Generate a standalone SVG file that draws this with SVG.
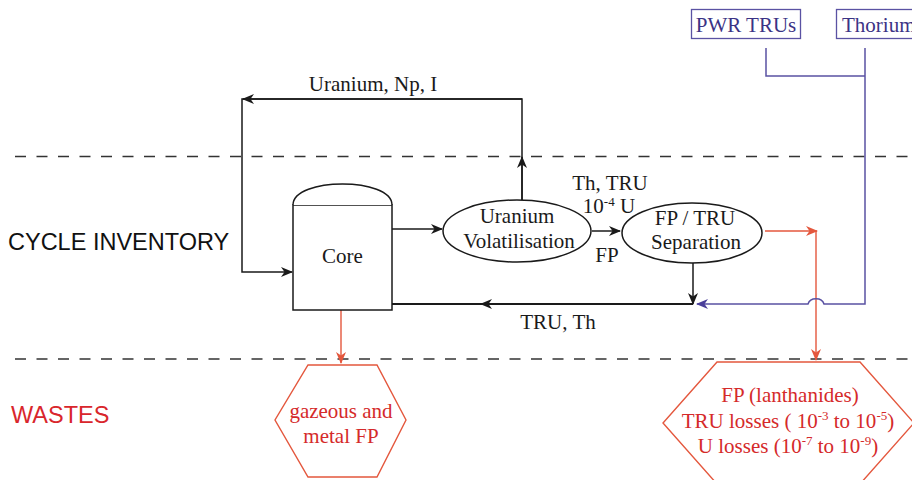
<svg xmlns="http://www.w3.org/2000/svg" width="912" height="480" viewBox="0 0 912 480">
<style>
.s{font-family:"Liberation Serif","Times New Roman",serif;font-size:21px;fill:#1a1a1a}
.r{fill:#d52a2a}
.bt{fill:#3b3385}
.sans{font-family:"Liberation Sans",Arial,sans-serif;font-size:23.5px}
.ln{fill:none;stroke:#1a1a1a;stroke-width:1.5}
.rl{fill:none;stroke:#e4573d;stroke-width:1.4}
.bl{fill:none;stroke:#5a52a3;stroke-width:1.5}
.dash{fill:none;stroke:#333;stroke-width:1.6;stroke-dasharray:11 10.5}
</style>
<defs>
<marker id="ak" viewBox="0 0 12 10" refX="11" refY="5" markerWidth="12" markerHeight="10" markerUnits="userSpaceOnUse" orient="auto"><path d="M0,0 L12,5 L0,10 L3.5,5 z" fill="#1a1a1a"/></marker>
<marker id="ar" viewBox="0 0 12 10" refX="11" refY="5" markerWidth="12" markerHeight="10" markerUnits="userSpaceOnUse" orient="auto"><path d="M0,0 L12,5 L0,10 L3.5,5 z" fill="#e4573d"/></marker>
<marker id="ab" viewBox="0 0 12 10" refX="11" refY="5" markerWidth="12" markerHeight="10" markerUnits="userSpaceOnUse" orient="auto"><path d="M0,0 L12,5 L0,10 L3.5,5 z" fill="#4a3f9a"/></marker>
</defs>
<rect width="912" height="480" fill="#fff"/>
<g id="zones">
<line class="dash" x1="15" y1="156.5" x2="912" y2="156.5"/>
<line class="dash" x1="15" y1="359" x2="912" y2="359"/>
<text class="sans" x="8" y="250" fill="#111">CYCLE INVENTORY</text>
<text class="sans" x="11" y="423" fill="#d9262c">WASTES</text>
</g>
<g id="connectors">
<path class="ln" d="M522,200 V99 H242 V272 H292" marker-end="url(#ak)"/>
<path class="ln" d="M522,99 H243" marker-end="url(#ak)"/>
<path class="ln" d="M522,200 V157" marker-end="url(#ak)"/>
<path class="ln" d="M392,229 H442" marker-end="url(#ak)"/>
<path class="ln" d="M592,231 H620" marker-end="url(#ak)"/>
<path class="ln" d="M693,263 V304" marker-end="url(#ak)"/>
<path class="ln" d="M693,304 H392" style="stroke-width:2"/>
<path class="ln" d="M693,304 H481" marker-end="url(#ak)" style="stroke-width:2"/>
<path class="rl" d="M765,231 H817" marker-end="url(#ar)"/>
<path class="rl" d="M816,231 V360" marker-end="url(#ar)"/>
<path class="rl" d="M341,310 V363" marker-end="url(#ar)"/>
<path class="bl" d="M766,48 V76 H865"/>
<path class="bl" d="M865,48 V304 H824 C822,297 810,297 808,304 H697" marker-end="url(#ab)"/>
<text class="s" x="373" y="91" text-anchor="middle">Uranium, Np, I</text>
<text class="s" x="610" y="190" text-anchor="middle">Th, TRU</text>
<text class="s" x="609" y="213" text-anchor="middle">10<tspan font-size="13" dy="-7">-4</tspan><tspan dy="7"> U</tspan></text>
<text class="s" x="607" y="262" text-anchor="middle">FP</text>
<text class="s" x="558" y="329" text-anchor="middle">TRU, Th</text>
</g>
<g id="pwr">
<rect x="691.5" y="9.5" width="109" height="29" fill="#fff" stroke="#5a52a3" stroke-width="1.3"/>
<text class="s bt" x="746" y="32" text-anchor="middle">PWR TRUs</text>
</g>
<g id="thorium">
<rect x="836.5" y="9.5" width="90" height="29" fill="#fff" stroke="#5a52a3" stroke-width="1.3"/>
<text class="s bt" x="842" y="32">Thorium</text>
</g>
<g id="core">
<rect x="293" y="205" width="99" height="105" fill="#fff" stroke="#1a1a1a" stroke-width="1.5"/>
<path d="M293,205 C293,177 392,177 392,205" fill="#fff" stroke="#1a1a1a" stroke-width="1.5"/>
<text class="s" x="342.5" y="263" text-anchor="middle" font-size="23">Core</text>
</g>
<g id="volatilisation">
<ellipse cx="517" cy="231" rx="74" ry="31" fill="#fff" stroke="#1a1a1a" stroke-width="1.5"/>
<text class="s" x="517" y="223" text-anchor="middle" font-size="20.5">Uranium</text>
<text class="s" x="519" y="248" text-anchor="middle" font-size="20.5">Volatilisation</text>
</g>
<g id="separation">
<ellipse cx="692" cy="233" rx="70" ry="30" fill="#fff" stroke="#1a1a1a" stroke-width="1.5"/>
<text class="s" x="695" y="225" text-anchor="middle" font-size="20.5">FP / TRU</text>
<text class="s" x="696" y="249" text-anchor="middle" font-size="20.5">Separation</text>
</g>
<g id="gaseous-waste">
<polygon points="308,365 377,365 406,420 377,477 308,477 275,420" fill="#fff" stroke="#e4573d" stroke-width="1.4"/>
<text class="s r" x="341" y="418" text-anchor="middle">gazeous and</text>
<text class="s r" x="341" y="443" text-anchor="middle">metal FP</text>
</g>
<g id="separation-waste">
<polygon points="717,362 860,362 914,423 860,484 717,484 663,423" fill="#fff" stroke="#e4573d" stroke-width="1.4"/>
<text class="s r" x="790" y="402" text-anchor="middle">FP (lanthanides)</text>
<text class="s r" x="788" y="428" text-anchor="middle">TRU losses ( 10<tspan font-size="13" dy="-8">-3</tspan><tspan dy="8"> to 10</tspan><tspan font-size="13" dy="-8">-5</tspan><tspan dy="8">)</tspan></text>
<text class="s r" x="788" y="453" text-anchor="middle">U losses (10<tspan font-size="13" dy="-8">-7</tspan><tspan dy="8"> to 10</tspan><tspan font-size="13" dy="-8">-9</tspan><tspan dy="8">)</tspan></text>
</g>
</svg>
